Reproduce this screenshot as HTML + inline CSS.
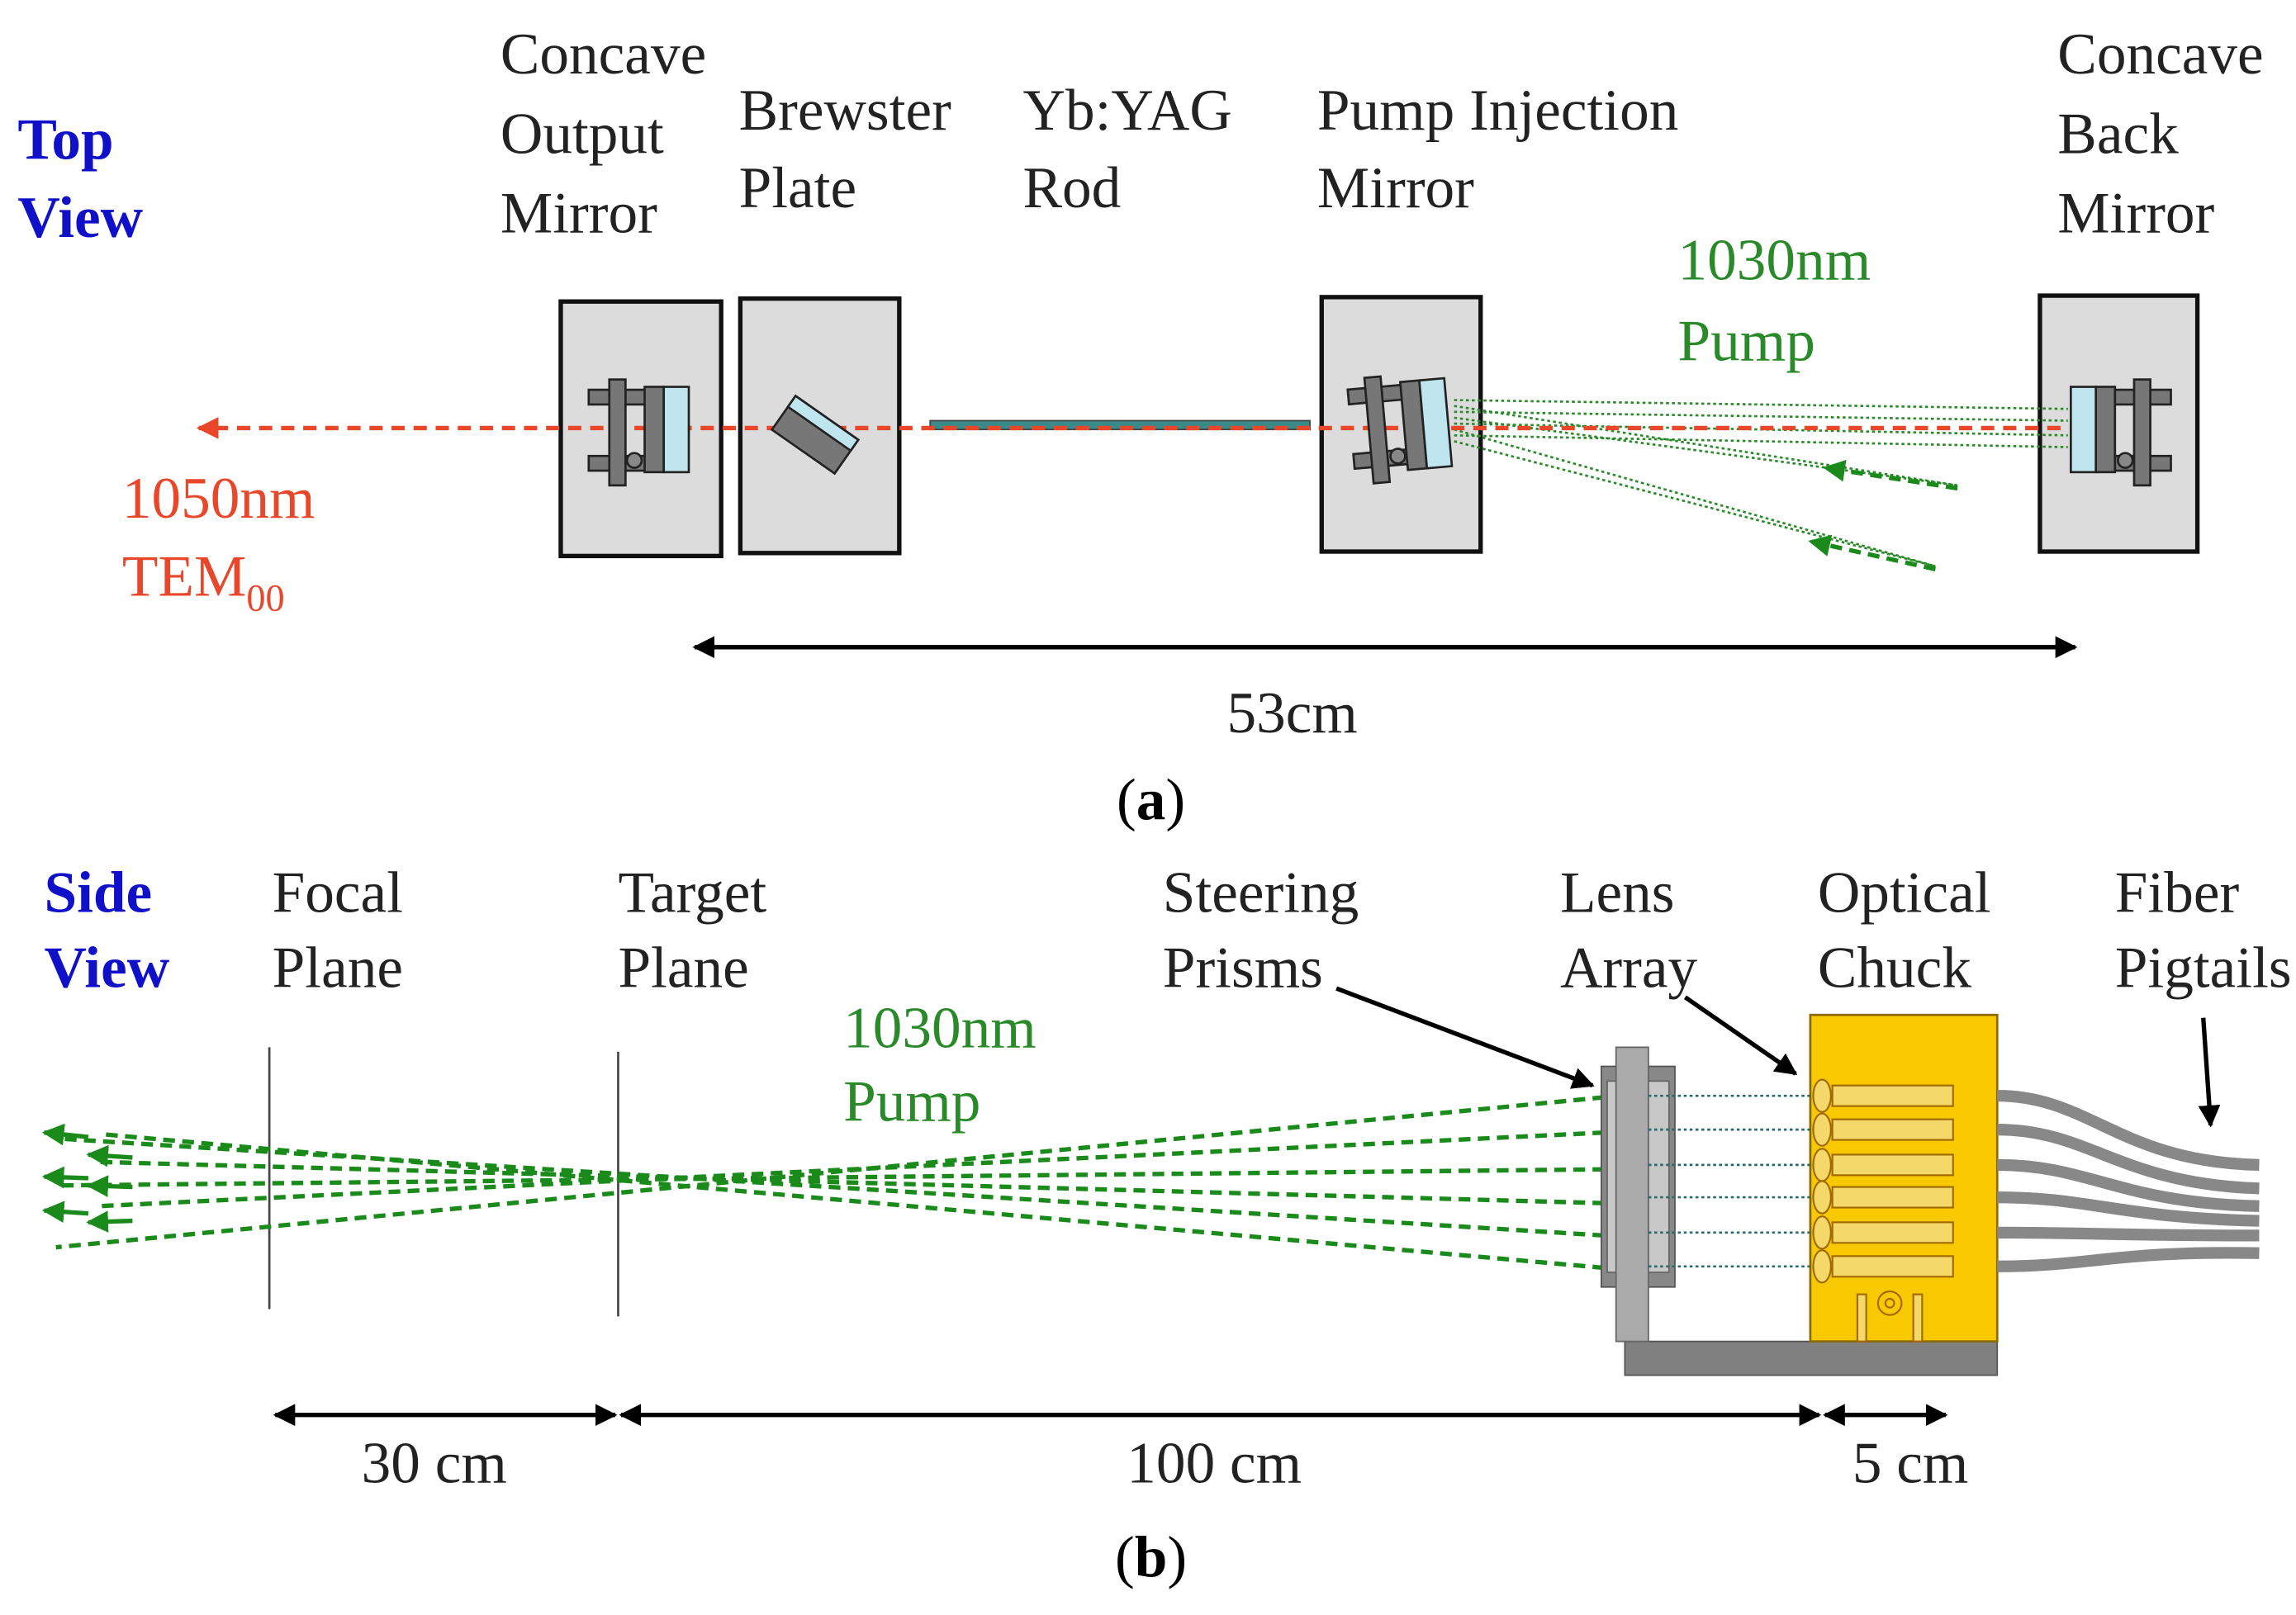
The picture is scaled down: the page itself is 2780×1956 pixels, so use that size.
<!DOCTYPE html>
<html><head><meta charset="utf-8"><style>
html,body{margin:0;padding:0;background:#fff;}
svg{display:block;}
text{font-family:"Liberation Serif",serif;}
</style></head><body>
<svg width="2780" height="1956" viewBox="0 0 1560 1098" preserveAspectRatio="none" xmlns="http://www.w3.org/2000/svg">
<defs>
<marker id="ab" viewBox="0 0 10 10" refX="9" refY="5" markerWidth="5" markerHeight="5" orient="auto-start-reverse"><path d="M0,0 L10,5 L0,10 z" fill="#000"/></marker>
<marker id="ar" viewBox="0 0 10 10" refX="9" refY="5" markerWidth="5" markerHeight="5" orient="auto-start-reverse"><path d="M0,0 L10,5 L0,10 z" fill="#e8472a"/></marker>
<marker id="ag" viewBox="0 0 10 10" refX="9" refY="5" markerWidth="5" markerHeight="5" orient="auto-start-reverse"><path d="M0,0 L10,5 L0,10 z" fill="#1a8a1a"/></marker>
</defs>

<!-- TOP VIEW labels -->
<g font-size="40" fill="#222">
<text x="340" y="50">Concave</text><text x="340" y="104">Output</text><text x="340" y="158">Mirror</text>
<text x="502" y="88">Brewster</text><text x="502" y="141">Plate</text>
<text x="695" y="88">Yb:YAG</text><text x="695" y="141">Rod</text>
<text x="895" y="88">Pump Injection</text><text x="895" y="141">Mirror</text>
<text x="1398" y="50">Concave</text><text x="1398" y="104">Back</text><text x="1398" y="158">Mirror</text>
</g>
<g font-size="40" font-weight="bold" fill="#1010c8">
<text x="12" y="108">Top</text><text x="12" y="161">View</text>
</g>
<g font-size="40" fill="#2a8a2a"><text x="1140" y="190">1030nm</text><text x="1140" y="245">Pump</text></g>
<g font-size="40" fill="#e8472a"><text x="83" y="352">1050nm</text><text x="83" y="405">TEM<tspan font-size="26" dy="10">00</tspan></text></g>

<!-- boxes -->
<g fill="#dcdcdc" stroke="#111" stroke-width="3">
<rect x="381" y="205" width="109" height="173"/>
<rect x="503" y="203" width="108" height="173"/>
<rect x="898" y="202" width="108" height="173"/>
<rect x="1386" y="201" width="107" height="174"/>
</g>
<!-- rod -->
<rect x="632" y="286" width="258" height="6" fill="#3a8a8a" stroke="#444" stroke-width="1"/>
<!-- pump lines top -->
<g stroke="#2a8a2a" stroke-width="1.5" stroke-dasharray="2 2" fill="none">
<line x1="988" y1="272" x2="1405" y2="278"/>
<line x1="988" y1="280" x2="1405" y2="286"/>
<line x1="988" y1="288" x2="1405" y2="296"/>
<line x1="988" y1="296" x2="1405" y2="304"/>
<line x1="988" y1="276" x2="1330" y2="330"/>
<line x1="988" y1="284" x2="1330" y2="330"/>
<line x1="988" y1="292" x2="1315" y2="385"/>
<line x1="988" y1="300" x2="1315" y2="385"/>
</g>
<g stroke="#1a8a1a" stroke-width="3" stroke-dasharray="8 5">
<line x1="1330" y1="332" x2="1240" y2="318" marker-end="url(#ag)"/>
<line x1="1315" y1="387" x2="1230" y2="368" marker-end="url(#ag)"/>
</g>
<!-- red beam -->
<line x1="1400" y1="291" x2="135" y2="291" stroke="#e8472a" stroke-width="3" stroke-dasharray="9 6" marker-end="url(#ar)"/>

<!-- mounts -->
<g stroke="#222" stroke-width="1.5">
<g>
<rect x="400" y="265" width="40" height="10" fill="#777"/><rect x="400" y="310" width="40" height="10" fill="#777"/>
<rect x="414" y="258" width="11" height="72" fill="#777"/>
<rect x="438" y="263" width="13" height="58" fill="#777"/>
<rect x="451" y="263" width="17" height="58" fill="#bfe6ee"/>
<circle cx="431" cy="313" r="5" fill="#888"/>
</g>
<g transform="rotate(35 553 295)">
<rect x="528" y="281" width="52" height="28" fill="#777"/>
<rect x="528" y="281" width="52" height="9" fill="#bfe6ee"/>
</g>
<g transform="rotate(-5 950 290)">
<rect x="918" y="262" width="40" height="10" fill="#777"/><rect x="918" y="306" width="40" height="10" fill="#777"/>
<rect x="930" y="255" width="11" height="72" fill="#777"/>
<rect x="954" y="260" width="13" height="60" fill="#777"/>
<rect x="967" y="260" width="17" height="60" fill="#bfe6ee"/>
<circle cx="948" cy="310" r="5" fill="#888"/>
</g>
<g>
<rect x="1435" y="265" width="40" height="10" fill="#777"/><rect x="1435" y="310" width="40" height="10" fill="#777"/>
<rect x="1450" y="258" width="11" height="72" fill="#777"/>
<rect x="1424" y="263" width="13" height="58" fill="#777"/>
<rect x="1407" y="263" width="17" height="58" fill="#bfe6ee"/>
<circle cx="1444" cy="313" r="5" fill="#888"/>
</g>
</g>

<!-- 53cm -->
<line x1="472" y1="440" x2="1410" y2="440" stroke="#000" stroke-width="3" marker-start="url(#ab)" marker-end="url(#ab)"/>
<text x="878" y="498" font-size="40" text-anchor="middle" fill="#222">53cm</text>
<text x="782" y="557" font-size="40" text-anchor="middle" fill="#000">(<tspan font-weight="bold">a</tspan>)</text>

<!-- SIDE VIEW -->
<g font-size="40" font-weight="bold" fill="#1010c8"><text x="30" y="620">Side</text><text x="30" y="671">View</text></g>
<g font-size="40" fill="#222">
<text x="185" y="620">Focal</text><text x="185" y="671">Plane</text>
<text x="420" y="620">Target</text><text x="420" y="671">Plane</text>
<text x="790" y="620">Steering</text><text x="790" y="671">Prisms</text>
<text x="1060" y="620">Lens</text><text x="1060" y="671">Array</text>
<text x="1235" y="620">Optical</text><text x="1235" y="671">Chuck</text>
<text x="1437" y="620">Fiber</text><text x="1437" y="671">Pigtails</text>
</g>
<g font-size="40" fill="#2a8a2a"><text x="573" y="712">1030nm</text><text x="573" y="762">Pump</text></g>
<line x1="183" y1="712" x2="183" y2="890" stroke="#444" stroke-width="1.5"/>
<line x1="420" y1="715" x2="420" y2="895" stroke="#444" stroke-width="1.5"/>

<!-- green beams -->
<g stroke="#1a8a1a" stroke-width="3" stroke-dasharray="8 5" fill="none">
<line x1="1090" y1="746" x2="38" y2="848"/>
<line x1="1090" y1="770" x2="68" y2="820"/>
<line x1="1090" y1="795" x2="38" y2="806"/>
<line x1="1090" y1="818" x2="68" y2="790"/>
<line x1="1090" y1="840" x2="38" y2="774"/>
<line x1="1090" y1="862" x2="68" y2="771"/>
</g>
<g stroke="#1a8a1a" stroke-width="3" fill="none">
<line x1="60" y1="773" x2="30" y2="770" marker-end="url(#ag)"/>
<line x1="60" y1="801" x2="30" y2="800" marker-end="url(#ag)"/>
<line x1="60" y1="825" x2="30" y2="823" marker-end="url(#ag)"/>
<line x1="90" y1="787" x2="60" y2="785" marker-end="url(#ag)"/>
<line x1="90" y1="807" x2="60" y2="806" marker-end="url(#ag)"/>
<line x1="90" y1="830" x2="60" y2="831" marker-end="url(#ag)"/>
</g>

<!-- base -->
<rect x="1104" y="912" width="253" height="23" fill="#808080" stroke="#555" stroke-width="1"/>
<!-- lens array -->
<rect x="1088" y="725" width="50" height="150" fill="#888" stroke="#555"/>
<rect x="1092" y="735" width="42" height="130" fill="#c8c8c8" stroke="#666"/>
<rect x="1098" y="712" width="22" height="200" fill="#aaa" stroke="#666"/>
<!-- chuck -->
<rect x="1230" y="690" width="127" height="222" fill="#f8c800" stroke="#8a6a00" stroke-width="1.5"/>
<g stroke="#2a6a6a" stroke-width="1.5" stroke-dasharray="2 2">
<line x1="1120" y1="745" x2="1232" y2="745"/><line x1="1120" y1="768" x2="1232" y2="768"/>
<line x1="1120" y1="792" x2="1232" y2="792"/><line x1="1120" y1="814" x2="1232" y2="814"/>
<line x1="1120" y1="838" x2="1232" y2="838"/><line x1="1120" y1="861" x2="1232" y2="861"/>
</g>
<g stroke="#a06a00" stroke-width="1.2">
<g fill="#f4d86a">
<ellipse cx="1238" cy="745" rx="6" ry="11"/><ellipse cx="1238" cy="768" rx="6" ry="11"/><ellipse cx="1238" cy="792" rx="6" ry="11"/>
<ellipse cx="1238" cy="814" rx="6" ry="11"/><ellipse cx="1238" cy="838" rx="6" ry="11"/><ellipse cx="1238" cy="861" rx="6" ry="11"/>
<rect x="1245" y="738" width="82" height="14"/><rect x="1245" y="761" width="82" height="14"/><rect x="1245" y="785" width="82" height="14"/>
<rect x="1245" y="807" width="82" height="14"/><rect x="1245" y="831" width="82" height="14"/><rect x="1245" y="854" width="82" height="14"/>
<rect x="1262" y="880" width="6" height="32"/><rect x="1300" y="880" width="6" height="32"/>
</g>
<circle cx="1284" cy="886" r="8" fill="none"/><circle cx="1284" cy="886" r="3" fill="none"/>
</g>
<!-- fibers -->
<g stroke="#888" stroke-width="8" fill="none">
<path d="M1357,745 C1420,745 1440,790 1535,792"/>
<path d="M1357,768 C1420,768 1440,805 1535,808"/>
<path d="M1357,792 C1420,792 1440,818 1535,820"/>
<path d="M1357,814 C1420,814 1440,828 1535,830"/>
<path d="M1357,838 C1420,838 1440,840 1535,840"/>
<path d="M1357,861 C1420,861 1440,850 1535,852"/>
</g>
<!-- pointer arrows -->
<g stroke="#000" stroke-width="3">
<line x1="908" y1="672" x2="1082" y2="738" marker-end="url(#ab)"/>
<line x1="1145" y1="678" x2="1220" y2="730" marker-end="url(#ab)"/>
<line x1="1497" y1="692" x2="1502" y2="765" marker-end="url(#ab)"/>
</g>
<!-- dims -->
<g stroke="#000" stroke-width="3">
<line x1="187" y1="962" x2="418" y2="962" marker-start="url(#ab)" marker-end="url(#ab)"/>
<line x1="422" y1="962" x2="1236" y2="962" marker-start="url(#ab)" marker-end="url(#ab)"/>
<line x1="1240" y1="962" x2="1322" y2="962" marker-start="url(#ab)" marker-end="url(#ab)"/>
</g>
<g font-size="40" fill="#222" text-anchor="middle">
<text x="295" y="1008">30 cm</text><text x="825" y="1008">100 cm</text><text x="1298" y="1008">5 cm</text>
</g>
<text x="782" y="1072" font-size="40" text-anchor="middle" fill="#000">(<tspan font-weight="bold">b</tspan>)</text>
</svg>
</body></html>
